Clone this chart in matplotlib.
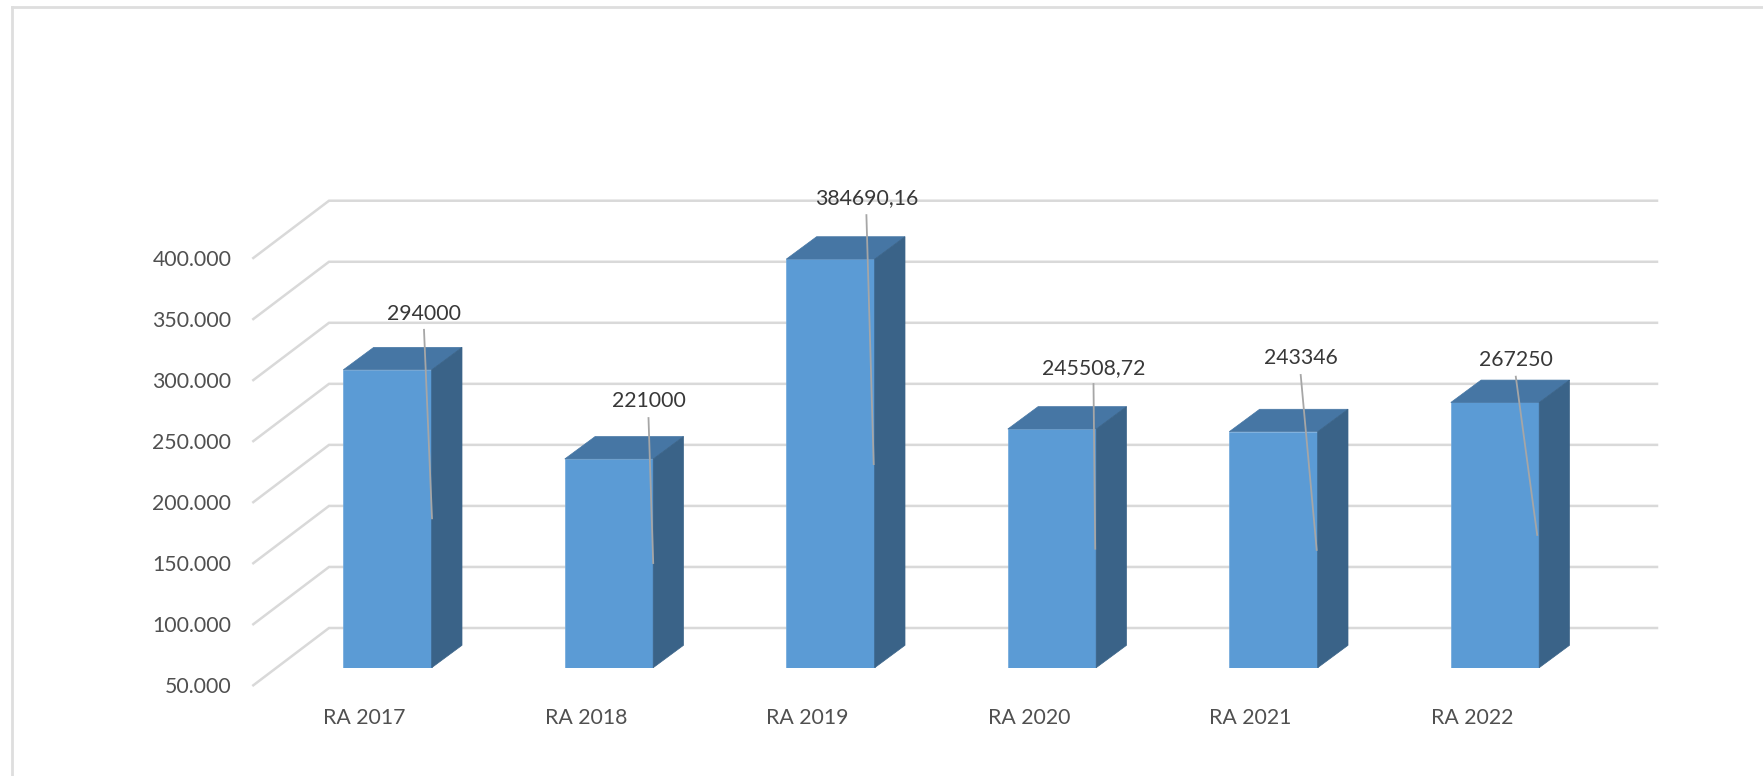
import matplotlib
matplotlib.use("Agg")
import matplotlib.pyplot as plt
from matplotlib.lines import Line2D
from matplotlib.patches import Polygon

categories = ["RA 2017", "RA 2018", "RA 2019", "RA 2020", "RA 2021", "RA 2022"]
values = [294000, 221000, 384690.16, 245508.72, 243346, 267250]
value_labels = ["294000", "221000", "384690,16", "245508,72", "243346", "267250"]
y_ticks = [50000, 100000, 150000, 200000, 250000, 300000, 350000, 400000]
y_tick_labels = ["50.000", "100.000", "150.000", "200.000", "250.000", "300.000", "350.000", "400.000"]

# label placement in pixels relative to the bar's top-right front corner
label_dx = [-7.7, -4.7, -8.3, -2.7, -17, -23.4]
label_dy = [56, 57.9, 60.8, 61.3, 74, 42.8]
lead_start_dy = [40, 40.9, 44, 45, 56.7, 25.8]
lead_end_dx = [0.3, 0, -1, -1, -1, -2]
lead_end_dy = [-148.5, -104.1, -205, -119.7, -118.3, -132.5]

W, H = 1763, 776
plt.rcParams["font.family"] = ["Lato", "DejaVu Sans"]
fig = plt.figure(figsize=(W / 100, H / 100), dpi=100, facecolor="white")

# layout in pixels
L, R = 253.3, 1657.0
BASE, TOP = 667.7, 150.0
FLOOR = 685.3
C0, STEP = 387.5, 221.5
K = 61.04 / 50000  # px per value unit
BAR_W = 88.4 / STEP
DX, DY = 30.3 / STEP, 22.4 / K
TEXT_SIZE = 15.3

def rect(bottom):
    return [L / W, 1 - bottom / H, (R - L) / W, (bottom - TOP) / H]

ax = fig.add_axes(rect(BASE))
ax.set_xlim((L - C0) / STEP, (R - C0) / STEP)
ax.set_ylim(50000, 50000 + (BASE - TOP) / K)
ax.patch.set_visible(False)
for s in ax.spines.values():
    s.set_visible(False)

ax_y = fig.add_axes(rect(FLOOR))
ax_y.set_xlim(ax.get_xlim())
ax_y.set_ylim(50000, 50000 + (FLOOR - TOP) / K)
ax_y.patch.set_visible(False)
for s in ax_y.spines.values():
    s.set_visible(False)
ax_y.set_xticks([])
ax_y.set_yticks(y_ticks, y_tick_labels)
ax_y.tick_params(axis="y", length=0, pad=15.7, labelsize=TEXT_SIZE, labelcolor="#505050")
ax_y.set_zorder(0)
ax.set_zorder(1)

# walls: gridlines run from the front of the floor to the back plane
back_x0 = (329.0 - C0) / STEP
front_x0 = (L - C0) / STEP
x_end = (R - C0) / STEP
front_shift = -(FLOOR - BASE) / K
back_shift = (BASE - 628.0) / K
for t in y_ticks:
    ax.plot([front_x0, back_x0, x_end],
            [t + front_shift, t + back_shift, t + back_shift],
            color="#D9D9D9", lw=1.8, clip_on=False, zorder=1, solid_joinstyle="miter")

ax.set_yticks([])
ax.set_xticks([i - 23.2 / STEP for i in range(len(categories))], categories)
ax.tick_params(axis="x", length=0, pad=29, labelsize=TEXT_SIZE, labelcolor="#505050")

FRONT, TOPC, SIDE = "#5B9BD5", "#4676A4", "#3A6388"
for i, v in enumerate(values):
    x0, x1 = i - BAR_W / 2, i + BAR_W / 2
    ax.bar(i, v - 50000, bottom=50000, width=BAR_W, color=FRONT, edgecolor="#6FA8DC",
           linewidth=0.5, zorder=3)
    ax.add_patch(Polygon([(x0, v), (x1, v), (x1 + DX, v + DY), (x0 + DX, v + DY)],
                         closed=True, fc=TOPC, ec=TOPC, lw=0.5, zorder=3, clip_on=False))
    ax.add_patch(Polygon([(x1, 50000), (x1 + DX, 50000 + DY), (x1 + DX, v + DY), (x1, v)],
                         closed=True, fc=SIDE, ec=SIDE, lw=0.5, zorder=3, clip_on=False))
    lx = x1 + label_dx[i] / STEP
    ax.text(lx, v + label_dy[i] / K, value_labels[i], ha="center", va="center",
            fontsize=TEXT_SIZE, color="#383838", zorder=5, clip_on=False)
    ax.plot([lx, x1 + lead_end_dx[i] / STEP],
            [v + lead_start_dy[i] / K, v + lead_end_dy[i] / K],
            color="#A6A6A6", lw=1.3, zorder=4, clip_on=False)

# chart frame: only the top and left edges fall inside the picture
fig.add_artist(Line2D([11.5 / W, 11.5 / W], [0, 1 - 6.5 / H], color="#DEDEDE", lw=2))
fig.add_artist(Line2D([11.5 / W, 1], [1 - 6.5 / H, 1 - 6.5 / H], color="#DEDEDE", lw=2))

fig.savefig("out.png", dpi=100, facecolor="white")
